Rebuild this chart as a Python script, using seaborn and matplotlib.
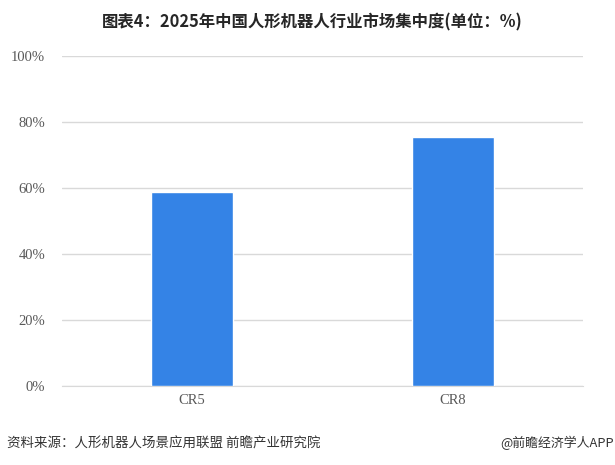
import pandas as pd
import numpy as np
import seaborn as sns
import matplotlib.pyplot as plt

# data
categories = ['CR5', 'CR8']
values = [58.7, 75.5]
y_ticks = [0, 20, 40, 60, 80, 100]
y_labels = ['0%', '20%', '40%', '60%', '80%', '100%']

df = pd.DataFrame({'cat': categories, 'val': values})

sns.set_style('white')
plt.rcParams['font.family'] = ['Noto Sans CJK SC', 'DejaVu Sans']

fig = plt.figure(figsize=(6.15, 4.65), dpi=100)
ax = fig.add_axes([0.1008, 0.170, 0.8472, 0.710])

sns.barplot(data=df, x='cat', y='val', color='#3483E6', width=0.315,
            saturation=1, ax=ax, zorder=3)

ax.set_ylim(0, 100)
ax.set_xlim(-0.5, 1.5)
ax.set_yticks(y_ticks)
ax.set_yticklabels(y_labels)
ax.set_xlabel('')
ax.set_ylabel('')
ax.yaxis.grid(True, color='#D9D9D9', linewidth=1, zorder=0)
ax.set_axisbelow(True)
for s in ['top', 'right', 'left']:
    ax.spines[s].set_visible(False)
ax.spines['bottom'].set_color('#D9D9D9')
ax.tick_params(axis='both', length=0, colors='#595959', labelsize=10.5)
ax.tick_params(axis='y', pad=12)
ax.tick_params(axis='x', pad=6)
for lab in ax.get_xticklabels() + ax.get_yticklabels():
    lab.set_fontfamily('Liberation Serif')

fig.text(0.508, 0.952, '图表4：2025年中国人形机器人行业市场集中度(单位：%)',
         ha='center', va='center', fontsize=11.8, fontweight='bold', color='#262626')
fig.text(0.012, 0.047, '资料来源：人形机器人场景应用联盟 前瞻产业研究院',
         ha='left', va='center', fontsize=9.7, color='#333333')
fig.text(0.998, 0.047, '@前瞻经济学人APP',
         ha='right', va='center', fontsize=9.3, color='#333333')

fig.savefig('out.png', dpi=100)
